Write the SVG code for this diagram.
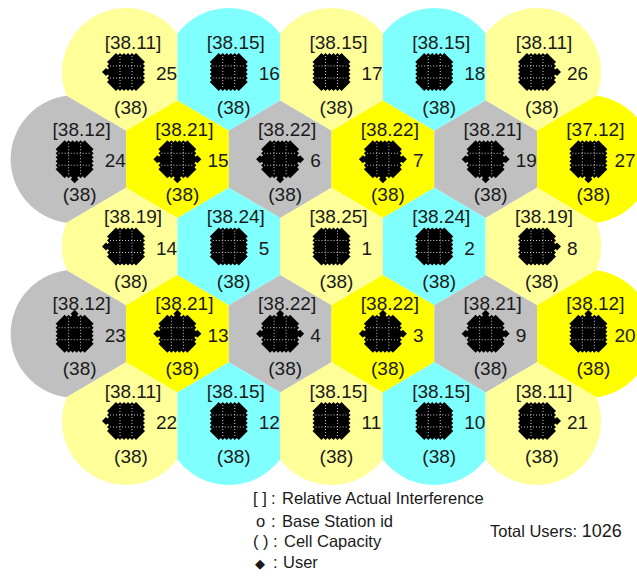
<svg xmlns="http://www.w3.org/2000/svg" xmlns:xlink="http://www.w3.org/1999/xlink" width="637" height="576" viewBox="0 0 637 576">
<style>
.ly{fill:#FFFF99}.yl{fill:#FFFF00}.cy{fill:#80FFFF}.gy{fill:#C0C0C0}
text{font-family:"Liberation Sans",Arial,sans-serif;fill:#1a1a1a}
.lab{font-size:19px;text-anchor:middle}
.id{font-size:19px}
.leg{font-size:16.5px}
.dots{fill:none;stroke:#fff;stroke-width:0.8;stroke-dasharray:1 2}
</style>
<defs>
<path id="hA" d="M0,-58.75L51.375,-28.5V28.5L0,58.75L-51.375,28.5V-28.5Z"/>
<path id="hB" d="M51.375,-38.17L51.375,28.5L0,58.75L-51.375,28.5L-51.375,-38.17A64,64 0 0 1 51.375,-38.17Z"/>
<path id="hC" d="M51.375,-38.17L51.375,28.5L0,58.75L-51.375,28.5L-59.42,23.76A64,64 0 0 1 51.375,-38.17Z"/>
<path id="hD" d="M59.42,23.76L0,58.75L-51.375,28.5L-51.375,-38.17A64,64 0 0 1 59.42,23.76Z"/>
<path id="hE" d="M-8.05,-63.49L51.375,-28.5L51.375,28.5L-8.05,63.49A64,64 0 0 1 -8.05,-63.49Z"/>
<path id="hF" d="M8.05,63.49L-51.375,28.5L-51.375,-28.5L8.05,-63.49A64,64 0 0 1 8.05,63.49Z"/>
<path id="hG" d="M-59.42,-23.76L0,-58.75L51.375,-28.5L51.375,28.5L0,58.75L-59.42,23.76A64,64 0 0 1 -59.42,-23.76Z"/>
<path id="hH" d="M59.42,23.76L0,58.75L-51.375,28.5L-51.375,-28.5L0,-58.75L59.42,-23.76A64,64 0 0 1 59.42,23.76Z"/>
<path id="hI" d="M-51.375,38.17L-51.375,-28.5L0,-58.75L51.375,-28.5L51.375,38.17A64,64 0 0 1 -51.375,38.17Z"/>
<path id="hJ" d="M-59.42,-23.76L0,-58.75L51.375,-28.5L51.375,38.17A64,64 0 0 1 -59.42,-23.76Z"/>
<path id="hK" d="M-51.375,38.17L-51.375,-28.5L0,-58.75L59.42,-23.76A64,64 0 0 1 -51.375,38.17Z"/>
<g id="blob">
<path fill="#000" d="M-12,-17l2,-2 2,2 2,-2 2,2 2,-2 2,2 2,-2 2,2 2,-2 2,2 2,-2 2,2l2.5,2.5 2.5,2.5l2,2 -2,2 2,2 -2,2 2,2 -2,2 2,2 -2,2 2,2 -2,2 2,2 -2,2l-2.5,2.5 -2.5,2.5l-2,2 -2,-2 -2,2 -2,-2 -2,2 -2,-2 -2,2 -2,-2 -2,2 -2,-2 -2,2 -2,-2l-2.5,-2.5 -2.5,-2.5l-2,-2 2,-2 -2,-2 2,-2 -2,-2 2,-2 -2,-2 2,-2 -2,-2 2,-2 -2,-2 2,-2Z"/>
<path class="dots" d="M-6,-16V16M6,-16V16M-16,-6H16M-16,6H16"/>
</g>
<path id="dia" fill="#000" d="M0,-4L4,0L0,4L-4,0Z"/>
</defs>

<!-- Row 1 -->
<g id="cell-25" transform="translate(126,72)"><use xlink:href="#hC" class="ly"/><use xlink:href="#blob"/><use xlink:href="#dia" x="-20"/><text class="lab" x="7" y="-23.5">[38.11]</text><text class="id" x="30" y="8">25</text><text class="lab" x="5" y="41.5">(38)</text></g>
<g id="cell-16" transform="translate(228.75,72)"><use xlink:href="#hB" class="cy"/><use xlink:href="#blob"/><text class="lab" x="7" y="-23.5">[38.15]</text><text class="id" x="30" y="8">16</text><text class="lab" x="5" y="41.5">(38)</text></g>
<g id="cell-17" transform="translate(331.5,72)"><use xlink:href="#hB" class="ly"/><use xlink:href="#blob"/><text class="lab" x="7" y="-23.5">[38.15]</text><text class="id" x="30" y="8">17</text><text class="lab" x="5" y="41.5">(38)</text></g>
<g id="cell-18" transform="translate(434.25,72)"><use xlink:href="#hB" class="cy"/><use xlink:href="#blob"/><text class="lab" x="7" y="-23.5">[38.15]</text><text class="id" x="30" y="8">18</text><text class="lab" x="5" y="41.5">(38)</text></g>
<g id="cell-26" transform="translate(537,72)"><use xlink:href="#hD" class="ly"/><use xlink:href="#blob"/><use xlink:href="#dia" x="20"/><text class="lab" x="7" y="-23.5">[38.11]</text><text class="id" x="30" y="8">26</text><text class="lab" x="5" y="41.5">(38)</text></g>

<!-- Row 2 -->
<g id="cell-24" transform="translate(74.625,159.25)"><use xlink:href="#hE" class="gy"/><use xlink:href="#blob"/><use xlink:href="#dia" y="20"/><text class="lab" x="7" y="-23.5">[38.12]</text><text class="id" x="30" y="8">24</text><text class="lab" x="5" y="41.5">(38)</text></g>
<g id="cell-15" transform="translate(177.375,159.25)"><use xlink:href="#hA" class="yl"/><use xlink:href="#blob"/><use xlink:href="#dia" x="-20"/><use xlink:href="#dia" x="20"/><use xlink:href="#dia" y="20"/><text class="lab" x="7" y="-23.5">[38.21]</text><text class="id" x="30" y="8">15</text><text class="lab" x="5" y="41.5">(38)</text></g>
<g id="cell-6" transform="translate(280.125,159.25)"><use xlink:href="#hA" class="gy"/><use xlink:href="#blob"/><use xlink:href="#dia" x="-20"/><use xlink:href="#dia" x="20"/><use xlink:href="#dia" y="20"/><text class="lab" x="7" y="-23.5">[38.22]</text><text class="id" x="30" y="8">6</text><text class="lab" x="5" y="41.5">(38)</text></g>
<g id="cell-7" transform="translate(382.875,159.25)"><use xlink:href="#hA" class="yl"/><use xlink:href="#blob"/><use xlink:href="#dia" x="-20"/><use xlink:href="#dia" x="20"/><use xlink:href="#dia" y="20"/><text class="lab" x="7" y="-23.5">[38.22]</text><text class="id" x="30" y="8">7</text><text class="lab" x="5" y="41.5">(38)</text></g>
<g id="cell-19" transform="translate(485.625,159.25)"><use xlink:href="#hA" class="gy"/><use xlink:href="#blob"/><use xlink:href="#dia" x="-20"/><use xlink:href="#dia" x="20"/><use xlink:href="#dia" y="20"/><text class="lab" x="7" y="-23.5">[38.21]</text><text class="id" x="30" y="8">19</text><text class="lab" x="5" y="41.5">(38)</text></g>
<g id="cell-27" transform="translate(588.375,159.25)"><use xlink:href="#hF" class="yl"/><use xlink:href="#blob"/><use xlink:href="#dia" y="20"/><text class="lab" x="7" y="-23.5">[37.12]</text><text class="id" x="26" y="8">27</text><text class="lab" x="5" y="41.5">(38)</text></g>

<!-- Row 3 -->
<g id="cell-14" transform="translate(126,246.5)"><use xlink:href="#hG" class="ly"/><use xlink:href="#blob"/><use xlink:href="#dia" x="-20"/><text class="lab" x="7" y="-23.5">[38.19]</text><text class="id" x="30" y="8">14</text><text class="lab" x="5" y="41.5">(38)</text></g>
<g id="cell-5" transform="translate(228.75,246.5)"><use xlink:href="#hA" class="cy"/><use xlink:href="#blob"/><text class="lab" x="7" y="-23.5">[38.24]</text><text class="id" x="30" y="8">5</text><text class="lab" x="5" y="41.5">(38)</text></g>
<g id="cell-1" transform="translate(331.5,246.5)"><use xlink:href="#hA" class="ly"/><use xlink:href="#blob"/><text class="lab" x="7" y="-23.5">[38.25]</text><text class="id" x="30" y="8">1</text><text class="lab" x="5" y="41.5">(38)</text></g>
<g id="cell-2" transform="translate(434.25,246.5)"><use xlink:href="#hA" class="cy"/><use xlink:href="#blob"/><text class="lab" x="7" y="-23.5">[38.24]</text><text class="id" x="30" y="8">2</text><text class="lab" x="5" y="41.5">(38)</text></g>
<g id="cell-8" transform="translate(537,246.5)"><use xlink:href="#hH" class="ly"/><use xlink:href="#blob"/><use xlink:href="#dia" x="20"/><text class="lab" x="7" y="-23.5">[38.19]</text><text class="id" x="30" y="8">8</text><text class="lab" x="5" y="41.5">(38)</text></g>

<!-- Row 4 -->
<g id="cell-23" transform="translate(74.625,333.75)"><use xlink:href="#hE" class="gy"/><use xlink:href="#blob"/><use xlink:href="#dia" y="-20"/><text class="lab" x="7" y="-23.5">[38.12]</text><text class="id" x="30" y="8">23</text><text class="lab" x="5" y="41.5">(38)</text></g>
<g id="cell-13" transform="translate(177.375,333.75)"><use xlink:href="#hA" class="yl"/><use xlink:href="#blob"/><use xlink:href="#dia" x="-20"/><use xlink:href="#dia" x="20"/><use xlink:href="#dia" y="-20"/><text class="lab" x="7" y="-23.5">[38.21]</text><text class="id" x="30" y="8">13</text><text class="lab" x="5" y="41.5">(38)</text></g>
<g id="cell-4" transform="translate(280.125,333.75)"><use xlink:href="#hA" class="gy"/><use xlink:href="#blob"/><use xlink:href="#dia" x="-20"/><use xlink:href="#dia" x="20"/><use xlink:href="#dia" y="-20"/><text class="lab" x="7" y="-23.5">[38.22]</text><text class="id" x="30" y="8">4</text><text class="lab" x="5" y="41.5">(38)</text></g>
<g id="cell-3" transform="translate(382.875,333.75)"><use xlink:href="#hA" class="yl"/><use xlink:href="#blob"/><use xlink:href="#dia" x="-20"/><use xlink:href="#dia" x="20"/><use xlink:href="#dia" y="-20"/><text class="lab" x="7" y="-23.5">[38.22]</text><text class="id" x="30" y="8">3</text><text class="lab" x="5" y="41.5">(38)</text></g>
<g id="cell-9" transform="translate(485.625,333.75)"><use xlink:href="#hA" class="gy"/><use xlink:href="#blob"/><use xlink:href="#dia" x="-20"/><use xlink:href="#dia" x="20"/><use xlink:href="#dia" y="-20"/><text class="lab" x="7" y="-23.5">[38.21]</text><text class="id" x="30" y="8">9</text><text class="lab" x="5" y="41.5">(38)</text></g>
<g id="cell-20" transform="translate(588.375,333.75)"><use xlink:href="#hF" class="yl"/><use xlink:href="#blob"/><use xlink:href="#dia" y="-20"/><text class="lab" x="7" y="-23.5">[38.12]</text><text class="id" x="26" y="8">20</text><text class="lab" x="5" y="41.5">(38)</text></g>

<!-- Row 5 -->
<g id="cell-22" transform="translate(126,421)"><use xlink:href="#hJ" class="ly"/><use xlink:href="#blob"/><use xlink:href="#dia" x="-20"/><text class="lab" x="7" y="-23.5">[38.11]</text><text class="id" x="30" y="8">22</text><text class="lab" x="5" y="41.5">(38)</text></g>
<g id="cell-12" transform="translate(228.75,421)"><use xlink:href="#hI" class="cy"/><use xlink:href="#blob"/><text class="lab" x="7" y="-23.5">[38.15]</text><text class="id" x="30" y="8">12</text><text class="lab" x="5" y="41.5">(38)</text></g>
<g id="cell-11" transform="translate(331.5,421)"><use xlink:href="#hI" class="ly"/><use xlink:href="#blob"/><text class="lab" x="7" y="-23.5">[38.15]</text><text class="id" x="30" y="8">11</text><text class="lab" x="5" y="41.5">(38)</text></g>
<g id="cell-10" transform="translate(434.25,421)"><use xlink:href="#hI" class="cy"/><use xlink:href="#blob"/><text class="lab" x="7" y="-23.5">[38.15]</text><text class="id" x="30" y="8">10</text><text class="lab" x="5" y="41.5">(38)</text></g>
<g id="cell-21" transform="translate(537,421)"><use xlink:href="#hK" class="ly"/><use xlink:href="#blob"/><use xlink:href="#dia" x="20"/><text class="lab" x="7" y="-23.5">[38.11]</text><text class="id" x="30" y="8">21</text><text class="lab" x="5" y="41.5">(38)</text></g>

<!-- Legend -->
<g id="legend">
<text class="leg" y="504"><tspan x="253">[ ]</tspan><tspan x="271">:</tspan><tspan x="282">Relative Actual Interference</tspan></text>
<text class="leg" y="527"><tspan x="256">o</tspan><tspan x="271">:</tspan><tspan x="282">Base Station id</tspan></text>
<text class="leg" y="547"><tspan x="253">( )</tspan><tspan x="273">:</tspan><tspan x="284">Cell Capacity</tspan></text>
<text class="leg" y="568"><tspan x="255" font-size="13">◆</tspan><tspan x="273">:</tspan><tspan x="283">User</tspan></text>
<text class="leg" x="490" y="537">Total Users: <tspan font-size="18">1026</tspan></text>
</g>
</svg>
